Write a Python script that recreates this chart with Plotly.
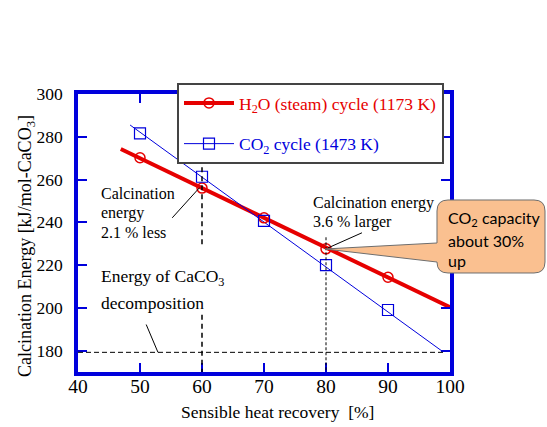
import plotly.graph_objects as go

# ---------------- data ----------------
recovery = [50, 60, 70, 80, 90]
h2o_energy = [270.2, 256.0, 242.1, 227.6, 214.3]
co2_energy = [281.6, 261.3, 240.7, 220.0, 199.0]

h2o_fit_x = [46.9, 100.0]
h2o_fit_y = [274.3, 200.3]
co2_fit_x = [48.4, 98.7]
co2_fit_y = [285.5, 179.8]

decomposition_energy = 179.2

x_ticks = [40, 50, 60, 70, 80, 90, 100]
y_ticks = [180, 200, 220, 240, 260, 280, 300]

h2o_name = "H<sub>2</sub>O (steam) cycle (1173 K)"
co2_name = "CO<sub>2</sub> cycle (1473 K)"
x_title = "Sensible heat recovery\u00a0 [%]"
y_title = "Calcination Energy [kJ/mol-CaCO<sub>3</sub>]"

# ---------------- style ----------------
RED = "#E60000"
BLUE = "#0000DC"
SERIF = "Liberation Serif"
W, H = 547, 427
ML, MR, MT, MB = 78, 97, 94, 55
PW, PH = W - ML - MR, H - MT - MB


def px(x):
    return (x - ML) / PW


def py(y):
    return (H - MB - y) / PH


fig = go.Figure()

# fit lines
fig.add_trace(go.Scatter(x=h2o_fit_x, y=h2o_fit_y, mode="lines",
                         line=dict(color=RED, width=4), showlegend=False, hoverinfo="skip"))
fig.add_trace(go.Scatter(x=co2_fit_x, y=co2_fit_y, mode="lines",
                         line=dict(color=BLUE, width=1), showlegend=False, hoverinfo="skip"))
# measured points
fig.add_trace(go.Scatter(x=recovery, y=h2o_energy, mode="markers",
                         marker=dict(symbol="circle-open", size=10, color=RED, line=dict(width=1.5)),
                         showlegend=False))
fig.add_trace(go.Scatter(x=recovery, y=co2_energy, mode="markers",
                         marker=dict(symbol="square-open", size=11, color=BLUE, line=dict(width=1.2)),
                         showlegend=False))
# legend entries
fig.add_trace(go.Scatter(x=[None], y=[None], mode="lines+markers", legendgroup="a",
                         name=f'<span style="color:{RED}">{h2o_name}</span>',
                         line=dict(color=RED, width=4),
                         marker=dict(symbol="circle-open", size=10, color=RED, line=dict(width=1.5))))
fig.add_trace(go.Scatter(x=[None], y=[None], mode="lines+markers", legendgroup="b",
                         name=f'<span style="color:{BLUE}">{co2_name}</span>',
                         line=dict(color=BLUE, width=1),
                         marker=dict(symbol="square-open", size=11, color=BLUE, line=dict(width=1.2))))

shapes = []
# reference lines
shapes.append(dict(type="line", xref="x", yref="y", x0=60, x1=60, y0=265.8, y1=228.6,
                   line=dict(color="black", width=1.5, dash="5px,4px")))
shapes.append(dict(type="line", xref="x", yref="y", x0=60, x1=60, y0=196.8, y1=170,
                   line=dict(color="black", width=1.5, dash="5px,4px")))
shapes.append(dict(type="line", xref="x", yref="y", x0=80, x1=80, y0=233, y1=170,
                   line=dict(color="black", width=1, dash="3px,2px")))
shapes.append(dict(type="line", xref="x", yref="y", x0=40, x1=99.2,
                   y0=decomposition_energy, y1=decomposition_energy,
                   line=dict(color="black", width=1, dash="5px,3px")))
# pointer lines
shapes.append(dict(type="line", xref="x", yref="y", x0=55.2, y0=242.1, x1=59.6, y1=256.2,
                   line=dict(color="black", width=1)))
shapes.append(dict(type="line", xref="x", yref="y", x0=85.8, y0=235.1, x1=80.3, y1=228.0,
                   line=dict(color="black", width=1)))
shapes.append(dict(type="line", xref="x", yref="y", x0=51.0, y0=192.2, x1=52.9,
                   y1=decomposition_energy, line=dict(color="black", width=1)))

# callout bubble (pixel geometry -> paper)
L, R, T, B, r = 437, 545, 200, 273, 11
tipx, tipy = 325, 249
pts = [("M", L + r, T), ("L", R - r, T), ("Q", R, T, R, T + r), ("L", R, B - r),
       ("Q", R, B, R - r, B), ("L", L + r, B), ("Q", L, B, L, B - r), ("L", L, 262),
       ("L", tipx, tipy), ("L", L, 243), ("L", L, T + r), ("Q", L, T, L + r, T)]
path = ""
for p in pts:
    if p[0] == "Q":
        path += f"Q{px(p[1]):.5f},{py(p[2]):.5f} {px(p[3]):.5f},{py(p[4]):.5f} "
    else:
        path += f"{p[0]}{px(p[1]):.5f},{py(p[2]):.5f} "
path += "Z"
shapes.append(dict(type="path", xref="paper", yref="paper", path=path, layer="above",
                   fillcolor="#FAC090", line=dict(color="#6E6E6E", width=1)))


def note(text, x, yc, size, family=SERIF, xanchor="left", angle=0):
    return dict(text=text, xref="paper", yref="paper", x=px(x), y=py(yc),
                xanchor=xanchor, yanchor="middle", align="left", showarrow=False,
                textangle=angle, font=dict(family=family, size=size, color="black"))


annotations = [
    note("Calcination", 99, 193, 16),
    note("energy", 99, 213, 16),
    note("2.1 % less", 99, 232, 16),
    note("Calcination energy", 311, 203, 16),
    note("3.6 % larger", 311, 222, 16),
    note("Energy of CaCO<sub>3</sub>", 99, 277, 17.5),
    note("decomposition", 99, 303, 17.5),
    note("CO<sub>2</sub> capacity", 446, 218, 16, "Lato"),
    note("about 30%", 446, 240, 16, "Lato"),
    note("up", 446, 260, 16, "Lato"),
    note(x_title, 277, 412, 17.5, xanchor="center"),
    note(y_title, 27, 246, 18, xanchor="center", angle=-90),
]

axis_common = dict(showline=True, linecolor=BLUE, linewidth=3.5, mirror="ticks",
                   ticks="inside", tickcolor=BLUE, tickwidth=2, ticklen=9,
                   showgrid=False, zeroline=False, automargin=False)

fig.update_layout(
    width=W, height=H, margin=dict(l=ML, r=MR, t=MT, b=MB, autoexpand=False),
    paper_bgcolor="white", plot_bgcolor="white",
    xaxis=dict(range=[40, 100], tickvals=x_ticks, ticklabelstandoff=-6,
               tickfont=dict(family=SERIF, size=19.5, color="black"),
               **axis_common),
    yaxis=dict(range=[170, 300], tickvals=y_ticks, ticklabelstandoff=8,
               tickfont=dict(family=SERIF, size=17.5, color="black"),
               **axis_common),
    showlegend=True,
    legend=dict(x=px(177), y=py(83), xanchor="left", yanchor="top",
                bgcolor="white", bordercolor="#444444", borderwidth=2,
                font=dict(family=SERIF, size=17.5), tracegroupgap=15, itemwidth=50,
                traceorder="grouped"),
    shapes=shapes, annotations=annotations,
)

fig.write_html("out.html")
